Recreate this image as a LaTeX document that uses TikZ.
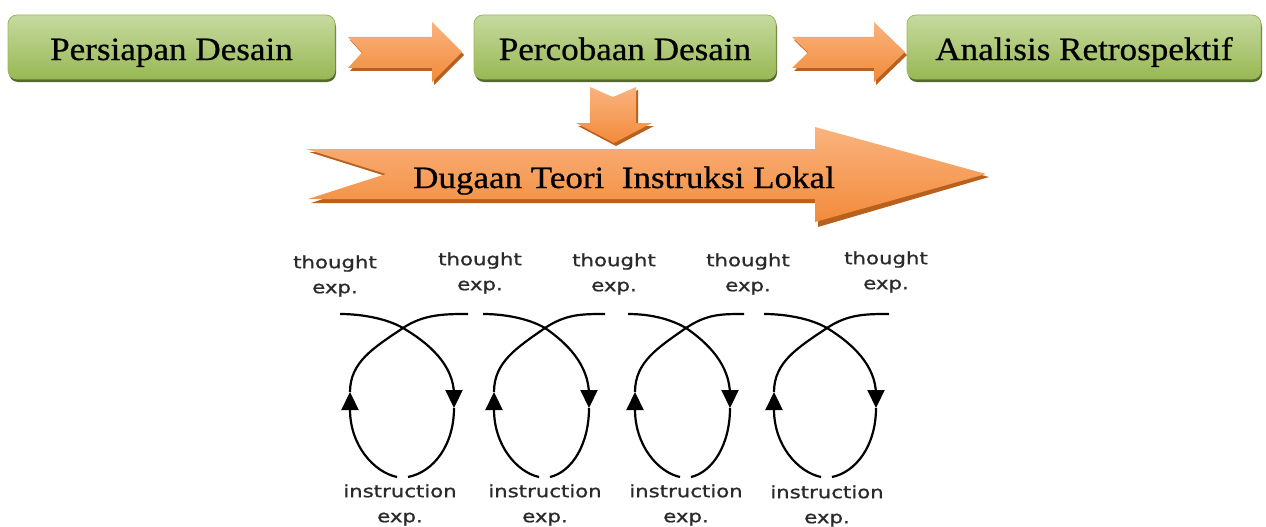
\documentclass[tikz,border=0pt]{standalone}
\usepackage{fontspec}
\setmainfont{Liberation Serif}
\newfontfamily\boxfont[FakeStretch=1.08,FakeBold=0.6]{Liberation Serif}
\newfontfamily\bigfont[FakeStretch=1.13,FakeBold=0.6]{Liberation Serif}
\newfontfamily\lblfont[FakeStretch=1.25,FakeBold=1]{DejaVu Sans}
\usetikzlibrary{arrows.meta,shadows}
\definecolor{grnTop}{HTML}{C6DA9F}
\definecolor{grnBot}{HTML}{98B854}
\definecolor{grnLine}{HTML}{9AB85E}
\definecolor{grnShadow}{HTML}{56692C}
\definecolor{orgTop}{HTML}{FAB37E}
\definecolor{orgBot}{HTML}{F28B3B}
\definecolor{orgShadow}{HTML}{B8601E}
\definecolor{lblGray}{HTML}{2A2A2A}
\tikzset{
  greenbox/.style={draw=grnLine, line width=0.8pt, rounded corners=9pt,
    top color=grnTop, bottom color=grnBot, minimum height=64pt, inner sep=0pt,
    text height=30pt, text depth=4pt,
    font=\boxfont\fontsize{32.5}{36}\selectfont,
    drop shadow={shadow xshift=1pt, shadow yshift=-3pt, fill=grnShadow, opacity=1}},
  orangearrow/.style={top color=orgTop, bottom color=orgBot, draw=none},
  orangeshadow/.style={fill=orgShadow},
  looplabel/.style={font=\lblfont\fontsize{17}{25}\selectfont, text=lblGray, align=center, inner sep=0pt},
  loopline/.style={line width=2.2pt, black},
  looptip/.style={-{Triangle[width=17pt,length=18pt]}, line width=2.2pt, black}
}
\begin{document}
\begin{tikzpicture}[x=1pt,y=-1pt]
\useasboundingbox (0,0) rectangle (1266,527);

% top boxes
\node[greenbox, minimum width=327pt] (b1) at (171.5,47) {Persiapan Desain};
\node[greenbox, minimum width=302pt] (b2) at (625,47) {Percobaan Desain};
\node[greenbox, minimum width=354pt] (b3) at (1084,47) {Analisis Retrospektif};

% right arrows (shadows first)
\fill[orangeshadow] (350,40) -- (434,40) -- (434,25) -- (464,55) -- (434,85) -- (434,71) -- (350,71) -- (364,55.5) -- cycle;
\path[orangearrow] (348,37) -- (432,37) -- (432,22) -- (462,52) -- (432,82) -- (432,68) -- (348,68) -- (362,52.5) -- cycle;
\fill[orangeshadow] (794,40) -- (876,40) -- (876,25) -- (907,55) -- (876,85) -- (876,71) -- (794,71) -- (810,55.5) -- cycle;
\path[orangearrow] (792,37) -- (874,37) -- (874,22) -- (905,52) -- (874,82) -- (874,68) -- (792,68) -- (808,52.5) -- cycle;

% down arrow
\fill[orangeshadow] (592,90) -- (615,100) -- (638,90) -- (638,126) -- (654,126) -- (616,146) -- (578,126) -- (592,126) -- cycle;
\path[orangearrow] (590,87) -- (613,97) -- (636,87) -- (636,123) -- (652,123) -- (614,143) -- (576,123) -- (590,123) -- cycle;

% big arrow
\fill[orangeshadow] (309,152) -- (818,152) -- (818,131) -- (989,177) -- (818,227) -- (818,203) -- (311,203) -- (389,177) -- cycle;
\path[orangearrow] (306,149) -- (815,149) -- (815,127) -- (986,174) -- (815,222) -- (815,199) -- (308,199) -- (386,174) -- cycle;
\node[font=\bigfont\fontsize{31}{34}\selectfont, inner sep=0pt, anchor=base] (dtil) at (624,188) {Dugaan Teori\ \ Instruksi Lokal};

% thought labels
\node[looplabel] (t1) at (335,276) {thought\\exp.};
\node[looplabel] (t2) at (480,273) {thought\\exp.};
\node[looplabel] (t3) at (614,274) {thought\\exp.};
\node[looplabel] (t4) at (748,274) {thought\\exp.};
\node[looplabel] (t5) at (886,272) {thought\\exp.};

% instruction labels
\node[looplabel] (i1) at (400,505) {instruction\\exp.};
\node[looplabel] (i2) at (545,505) {instruction\\exp.};
\node[looplabel] (i3) at (686,505) {instruction\\exp.};
\node[looplabel] (i4) at (827,506) {instruction\\exp.};

% loops: index / crossing x / left side x / right side x / start x / end x
\foreach \k/\xc/\l/\r/\s/\e in {1/403/350/454/340/468, 2/545/494/589/483/605, 3/686/635/730/628/744, 4/827/774/876/764/889}{
  \coordinate (s\k) at (\s,314);
  \coordinate (x\k) at (\xc,328);
  \coordinate (ru\k) at (\r,395);
  \coordinate (rm\k) at (\r,408);
  \coordinate (rb\k) at (\xc+5,477);
  \coordinate (lb\k) at (\xc-6,477);
  \coordinate (lm\k) at (\l,392);
  \coordinate (e\k) at (\e,314);
  \draw[loopline] (s\k) .. controls (\s+20,314) and (\xc-17.3,318) .. (x\k);
  \draw[looptip] (x\k) .. controls ({\xc+0.5*(\r-\xc)},343) and (\r,365) .. (ru\k) -- (rm\k);
  \draw[loopline] (rm\k) .. controls (\r,445) and ({\xc+0.6*(\r-\xc)},472) .. (rb\k);
  \draw[looptip] (lb\k) .. controls ({\xc-6-0.5*(\xc-6-\l)},472) and (\l,445) .. (lm\k);
  \draw[loopline] (lm\k) .. controls (\l,362) and ({\xc-0.55*(\xc-\l)},347.6) .. (x\k)
     .. controls (\xc+21,314) and (\e-23,314) .. (e\k);
}
\end{tikzpicture}
\end{document}
